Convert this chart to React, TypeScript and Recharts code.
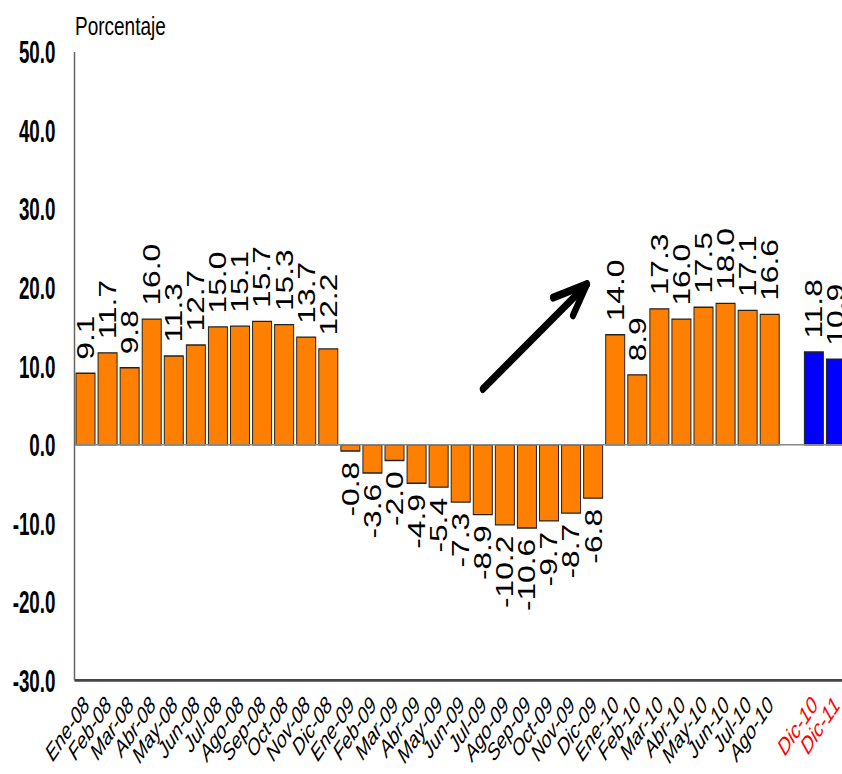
import React from 'react';
import {
    BarChart, Bar, XAxis, YAxis, Cell, LabelList, ReferenceLine
} from 'recharts';

// meses observados + hueco + proyecciones
const MESES = [
    'Ene-08', 'Feb-08', 'Mar-08', 'Abr-08', 'May-08', 'Jun-08', 'Jul-08', 'Ago-08', 'Sep-08', 'Oct-08', 'Nov-08', 'Dic-08',
    'Ene-09', 'Feb-09', 'Mar-09', 'Abr-09', 'May-09', 'Jun-09', 'Jul-09', 'Ago-09', 'Sep-09', 'Oct-09', 'Nov-09', 'Dic-09',
    'Ene-10', 'Feb-10', 'Mar-10', 'Abr-10', 'May-10', 'Jun-10', 'Jul-10', 'Ago-10',
];
const VALORES = [
    9.1, 11.7, 9.8, 16.0, 11.3, 12.7, 15.0, 15.1, 15.7, 15.3, 13.7, 12.2,
    -0.8, -3.6, -2.0, -4.9, -5.4, -7.3, -8.9, -10.2, -10.6, -9.7, -8.7, -6.8,
    14.0, 8.9, 17.3, 16.0, 17.5, 18.0, 17.1, 16.6,
];
const PROY_MESES = ['Dic-10', 'Dic-11'];
const PROY_VALORES = [11.8, 10.9];
const Y_TICKS = [-30, -20, -10, 0, 10, 20, 30, 40, 50];

// flecha de tendencia: tramo entre dos meses, prolongado un poco más allá del último
const FLECHA = [{ x: 'Jul-09', y: 7.1 }, { x: 'Nov-09', y: 18.4 }];
const FLECHA_EXTRA = 0.18;

const ORANGE = '#FF8000';
const BLUE = '#0000FF';
const STRETCH = 1.35;
const W = 850;
const H = 574;

const data = [
    ...MESES.map((mes, i) => ({ mes, valor: VALORES[i], proy: false })),
    { mes: '', valor: null, proy: false },
    ...PROY_MESES.map((mes, i) => ({ mes, valor: PROY_VALORES[i], proy: true })),
];

const FONT = '"Liberation Sans", Arial, sans-serif';

const YTick = ({ x, y, payload }: any) => (
    <text
        x={x} y={y} dy="0.36em" textAnchor="end"
        fontFamily={FONT} fontWeight="bold" fontSize={23.5} fill="#000"
        transform={`translate(${x} ${y}) scale(0.8 1) translate(${-x} ${-y})`}
    >
        {Number(payload.value).toFixed(1)}
    </text>
);

const XTick = ({ x, y, payload }: any) => {
    const rojo = PROY_MESES.includes(payload.value);
    return (
        <g transform={`translate(${x + 5},${y + 19})`}>
            <text
                textAnchor="end" transform="rotate(-48)"
                fontFamily={FONT} fontStyle="italic" fontSize={17.5}
                fill={rojo ? '#FF0000' : '#000'}
            >
                {payload.value}
            </text>
        </g>
    );
};

const ValueLabel = (props: any) => {
    const { x, y, width, height, value } = props;
    if (value == null) return null;
    const cx = x + width / 2 + 8.4;
    const top = Math.min(y, y + height);
    const bottom = Math.max(y, y + height);
    const neg = value < 0;
    const ay = neg ? bottom + 8 : top - 10;
    return (
        <text
            x={cx} y={ay} textAnchor={neg ? 'end' : 'start'}
            fontFamily={FONT} fontSize={23.5} fill="#000"
            transform={`rotate(-90 ${cx} ${ay})`}
        >
            {value.toFixed(1)}
        </text>
    );
};

const Flecha = ({ x1, y1, x2, y2 }: any) => {
    const tx = x2 + (x2 - x1) * FLECHA_EXTRA;
    const ty = y2 + (y2 - y1) * FLECHA_EXTRA;
    return (
        <g stroke="#000" strokeWidth={6} strokeLinecap="round" strokeLinejoin="round" fill="none">
            <line x1={x1} y1={y1} x2={tx} y2={ty} />
            <polyline points={`${tx - 34},${ty + 10} ${tx},${ty} ${tx - 14},${ty + 23}`} />
        </g>
    );
};

export default function App() {
    return (
        <div style={{ position: 'fixed', left: 0, top: 0, width: 842, height: 774, overflow: 'hidden', background: '#fff' }}>
            <div style={{ position: 'relative', width: W, height: H, transform: `scaleY(${STRETCH})`, transformOrigin: '0 0' }}>
                <svg width={W} height={40} style={{ position: 'absolute', left: 0, top: 0 }}>
                    <text x={75} y={26} fontFamily={FONT} fontSize={19} fill="#000">Porcentaje</text>
                </svg>
                <BarChart
                    width={W} height={H} data={data}
                    margin={{ top: 38.5, right: 3, bottom: 0, left: 0 }}
                    barCategoryGap={1.5}
                >
                    <XAxis
                        dataKey="mes" interval={0} height={70}
                        tickLine={false} tickSize={0} tickMargin={0}
                        axisLine={{ stroke: '#444', strokeWidth: 2 }}
                        tick={<XTick />}
                    />
                    <YAxis
                        width={74.5} domain={[-30, 50]} ticks={Y_TICKS} interval={0}
                        tickLine={false} tickSize={0} tickMargin={19}
                        axisLine={{ stroke: '#666', strokeWidth: 1.5 }}
                        tick={<YTick />}
                    />
                    <ReferenceLine y={0} stroke="#888" strokeWidth={1} />
                    <Bar dataKey="valor" stroke="#222" strokeWidth={1} isAnimationActive={false}>
                        {data.map((d, i) => (
                            <Cell key={i} fill={d.proy ? BLUE : ORANGE} />
                        ))}
                        <LabelList dataKey="valor" content={<ValueLabel />} />
                    </Bar>
                    <ReferenceLine segment={FLECHA} shape={<Flecha />} />
                </BarChart>
            </div>
        </div>
    );
}
